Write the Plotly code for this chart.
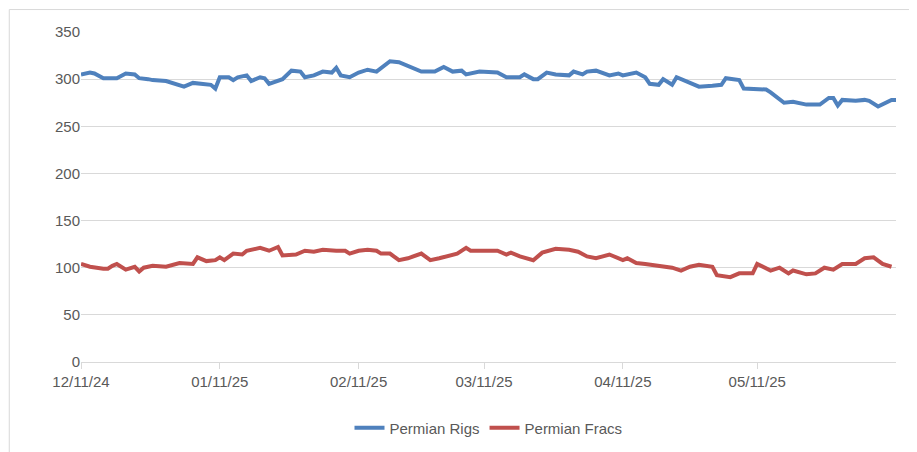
import datetime as dt
import plotly.graph_objects as go

start = dt.date(2024, 12, 11)

rig_days = [0, 2, 3, 5, 8, 10, 12, 13, 15, 16, 19, 22, 23, 25, 27, 29, 30, 31, 33, 34, 35, 37, 38, 40, 41, 42, 45,
            47, 49, 50, 52, 54, 56, 57, 58, 60, 62, 64, 66, 67, 69, 71, 74, 76, 79, 81, 83, 85, 86, 89,
            93, 95, 98, 99, 101, 102, 104, 106, 109, 110, 112, 113, 115, 118, 120, 121, 124, 126, 127, 129,
            130, 132, 133, 135, 137, 138, 141, 143, 144, 147, 148, 150, 153, 154, 157, 159, 162, 165, 167,
            168, 169, 170, 173, 175, 176, 178, 179, 181, 182]
rig_vals = [305, 307, 306, 301, 301, 306, 305, 301, 300, 299, 298, 293, 292, 296, 295, 294, 290, 302, 302, 299, 302,
            304, 298, 302, 301, 295, 300, 309, 308, 302, 304, 308, 307, 312, 304, 302, 307, 310, 308, 312, 319,
            318, 312, 308, 308, 313, 308, 309, 305, 308,
            307, 302, 302, 305, 300, 300, 307, 305, 304, 308, 305, 308, 309, 304, 306, 304, 307, 302, 295,
            294, 300, 294, 302, 298, 295, 292, 293, 294, 301, 299, 290, 290, 289, 286, 275, 276, 273, 273,
            280, 280, 272, 278, 277, 278, 277, 271, 273, 278, 278]

frac_days = [0, 2, 5, 6, 7, 8, 10, 12, 13, 14, 16, 19, 22, 25, 26, 28, 30, 31, 32, 34, 36, 37, 40, 42, 44, 45,
             48, 50, 52, 54, 57, 59, 60, 62, 64, 66, 67, 69, 71, 73, 76, 78, 80, 82, 84, 86, 87, 91,
             93, 95, 96, 98, 101, 103, 106, 109, 111, 113, 115, 118, 121, 122, 124, 126, 128, 130, 132,
             134, 136, 138, 141, 142, 145, 147, 150,
             151, 154, 156, 158, 159, 162, 164, 166, 168, 170, 173, 175, 177, 179, 181]
frac_vals = [104, 101, 99, 99, 102, 104, 98, 101, 96, 100, 102, 101, 105, 104, 111, 107, 108, 111, 108, 115, 114,
             118, 121, 118, 122, 113, 114, 118, 117, 119, 118, 118, 115, 118, 119, 118, 115, 115, 108, 110,
             115, 108, 110, 113, 115, 121, 118, 118,
             118, 114, 116, 112, 108, 116, 120, 119, 117, 112, 110, 114, 108, 110, 105, 104, 103, 101, 100,
             97, 101, 103, 101, 92, 90, 94, 94,
             104, 97, 100, 94, 97, 93, 94, 100, 98, 104, 104, 110, 111, 104, 101]

tick_dates = ["2024-12-11", "2025-01-11", "2025-02-11", "2025-03-11", "2025-04-11", "2025-05-11"]
tick_text = ["12/11/24", "01/11/25", "02/11/25", "03/11/25", "04/11/25", "05/11/25"]

rig_x = [start + dt.timedelta(days=d) for d in rig_days]
frac_x = [start + dt.timedelta(days=d) for d in frac_days]

fig = go.Figure()
fig.add_trace(go.Scatter(x=rig_x, y=rig_vals, mode="lines", name="Permian Rigs",
                         line=dict(color="#4F81BD", width=4)))
fig.add_trace(go.Scatter(x=frac_x, y=frac_vals, mode="lines", name="Permian Fracs",
                         line=dict(color="#C0504D", width=4)))

fig.update_layout(
    width=917, height=452,
    margin=dict(l=73, r=29, t=24, b=98, autoexpand=False),
    paper_bgcolor="white", plot_bgcolor="white",
    font=dict(family="Liberation Sans", size=15, color="#595959"),
    showlegend=True,
    legend=dict(orientation="h", x=0.5, xanchor="center", y=-0.2, yanchor="middle",
                font=dict(size=15, color="#595959")),
    xaxis=dict(range=[start, start + dt.timedelta(days=182)], tickvals=tick_dates, ticktext=tick_text,
               showgrid=False, showline=True, linecolor="#D9D9D9", linewidth=1,
               ticks="outside", tickcolor="#D9D9D9", ticklen=6),
    yaxis=dict(range=[0, 350], dtick=50, showgrid=True, gridcolor="#D9D9D9", gridwidth=1,
               zeroline=False, ticks="", tickfont=dict(size=15)),
    shapes=[dict(type="rect", xref="paper", yref="paper", x0=-0.088, x1=1.033, y0=-0.29, y1=1.068,
                 line=dict(color="#D9D9D9", width=1))],
)

fig.write_html("out.html")
